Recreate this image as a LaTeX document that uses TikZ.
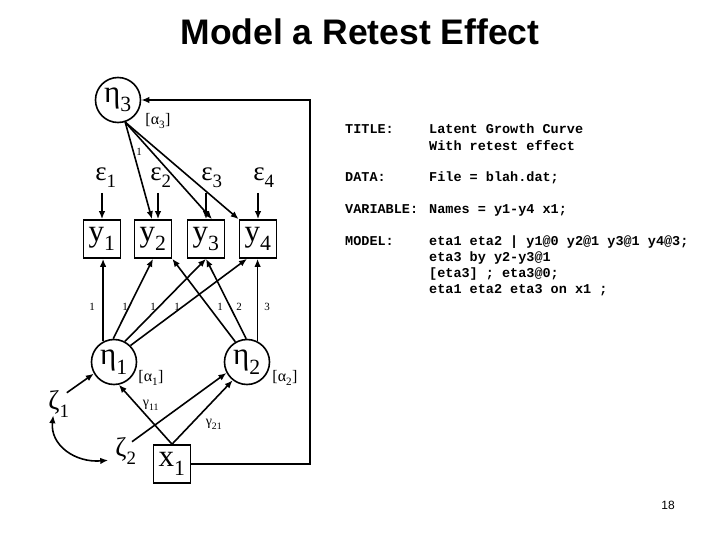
\documentclass[tikz,border=0pt]{standalone}
\usepackage{fontspec}
\setmainfont{Liberation Serif}
\newfontfamily\sansf{Liberation Sans}
\newfontfamily\monof{Liberation Mono}
\usetikzlibrary{arrows.meta}
\newcommand{\sbs}[1]{\raisebox{-0.12em}{\textsubscript{#1}}}
\begin{document}
\begin{tikzpicture}[x=1pt,y=-1pt,
 lat/.style={draw, circle, line width=1.6pt, minimum size=45pt, inner sep=0pt, font=\fontsize{31}{31}\selectfont},
 obs/.style={draw, line width=1.6pt, minimum width=37pt, minimum height=38pt, inner sep=0pt, font=\fontsize{31}{31}\selectfont},
 arr/.style={line width=1.6pt, -{Latex[length=8pt,width=6.5pt]}},
 darr/.style={line width=1.6pt, {Latex[length=8pt,width=6.5pt]}-{Latex[length=8pt,width=6.5pt]}},
 greek/.style={inner sep=0pt, font=\fontsize{27}{27}\selectfont},
 lbl/.style={inner sep=0pt, font=\fontsize{11}{11}\selectfont},
 par/.style={inner sep=0pt, font=\fontsize{16}{16}\selectfont},
 code/.style={inner sep=0pt, anchor=base west, font=\monof\bfseries\fontsize{13.5}{13.5}\selectfont},
]
\useasboundingbox (0,0) rectangle (720,540);
\fill[white] (0,0) rectangle (720,540);

% title
\node[inner sep=0pt, anchor=base, font=\sansf\bfseries\fontsize{35.5}{35.5}\selectfont] (title) at (360,45) {Model a Retest Effect};

% latent variables
\node[lat] (e3) at (118,100) {η\sbs{3}};
\node[lat] (h1) at (114,362) {η\sbs{1}};
\node[lat] (h2) at (247,362) {η\sbs{2}};

% observed
\node[obs] (y1) at (102,239) {y\sbs{1}};
\node[obs] (y2) at (153,239) {y\sbs{2}};
\node[obs] (y3) at (206,239) {y\sbs{3}};
\node[obs] (y4) at (258,239) {y\sbs{4}};
\node[obs] (x1) at (172,464) {x\sbs{1}};

% residuals
\node[greek] (eps1) at (106,178) {ε\sbs{1}};
\node[greek] (eps2) at (161,178) {ε\sbs{2}};
\node[greek] (eps3) at (212,178) {ε\sbs{3}};
\node[greek] (eps4) at (264,178) {ε\sbs{4}};
\node[greek] (z1) at (59,404) {ζ\sbs{1}};
\node[greek] (z2) at (126,451) {ζ\sbs{2}};

% parameter labels
\node[par] (a3) at (158,121) {[α\sbs{3}]};
\node[par] (a1) at (151,378) {[α\sbs{1}]};
\node[par] (a2) at (285,378) {[α\sbs{2}]};
\node[lbl, font=\fontsize{14}{14}\selectfont] (g11) at (151,405) {γ\sbs{11}};
\node[lbl, font=\fontsize{14}{14}\selectfont] (g21) at (214,424) {γ\sbs{21}};

% residual arrows
\draw[arr] (y1.north |- 0,193) -- (y1.north);
\draw[arr] ([xshift=5pt]y2.north |- 0,193) -- ([xshift=5pt]y2.north);
\draw[arr] (y3.north |- 0,193) -- (y3.north);
\draw[arr] (y4.north |- 0,193) -- (y4.north);

% eta3 loadings
\draw[arr] (e3.-72) -- ([xshift=-1pt]y2.north);
\draw[arr] (e3.-72) -- ([xshift=6pt]y3.north);
\draw[arr] (e3.-72) -- (y4.north west);
\node[lbl] (l31) at (139,152) {1};

% eta1 / eta2 loadings
\draw[arr] (h1.118) -- (h1.118 |- y1.south);
\draw[arr] (h1.92) -- (y2.south);
\draw[arr] (h1.62) -- (y3.south);
\draw[arr] (h1.45) -- ([xshift=-11pt]y4.south);
\draw[arr] (h2.120) -- (y2.south east);
\draw[arr] (h2.92) -- (y3.south);
\draw[arr] (h2.63) -- (h2.63 |- y4.south);
\node[lbl] (l11) at (92,307) {1};
\node[lbl] (l12) at (125,307) {1};
\node[lbl] (l13) at (153,307) {1};
\node[lbl] (l14) at (177,307) {1};
\node[lbl] (l22) at (220,307) {1};
\node[lbl] (l23) at (239,307) {2};
\node[lbl] (l24) at (267,307) {3};

% structural paths
\draw[arr] (x1.north) -- (h1.-78);
\draw[arr] (x1.north) -- (h2.-128);
\draw[arr] ([shift={(6pt,-4pt)}]z2.north) -- (h2.-152);
\draw[arr] ([shift={(-3pt,-2pt)}]z1.north east) -- (h1.210);
\draw[darr] ([shift={(5pt,2pt)}]z1.south west) .. controls (50,445) and (75,463) .. ([shift={(-7pt,4pt)}]z2.south west);

% retest loop
\coordinate (rc) at (310,0);
\draw[arr] (x1.east) -- (x1.east -| rc) -- (rc |- e3.east) -- (e3.east);

% Mplus code
\node[code] (k1) at (345,134) {TITLE:};
\node[code] (v1) at (429,134) {Latent Growth Curve};
\node[code] (v1b) at (429,151) {With retest effect};
\node[code] (k2) at (345,182) {DATA:};
\node[code] (v2) at (429,182) {File = blah.dat;};
\node[code] (k3) at (345,214) {VARIABLE:};
\node[code] (v3) at (429,214) {Names = y1-y4 x1;};
\node[code] (k4) at (345,245) {MODEL:};
\node[code] (v4a) at (429,245) {eta1 eta2 | y1@0 y2@1 y3@1 y4@3;};
\node[code] (v4b) at (429,261) {eta3 by y2-y3@1};
\node[code] (v4c) at (429,277) {[eta3] ; eta3@0;};
\node[code] (v4d) at (429,293) {eta1 eta2 eta3 on x1 ;};

% page number
\node[inner sep=0pt, font=\sansf\fontsize{12}{12}\selectfont] (pg) at (668,505) {18};
\end{tikzpicture}
\end{document}
